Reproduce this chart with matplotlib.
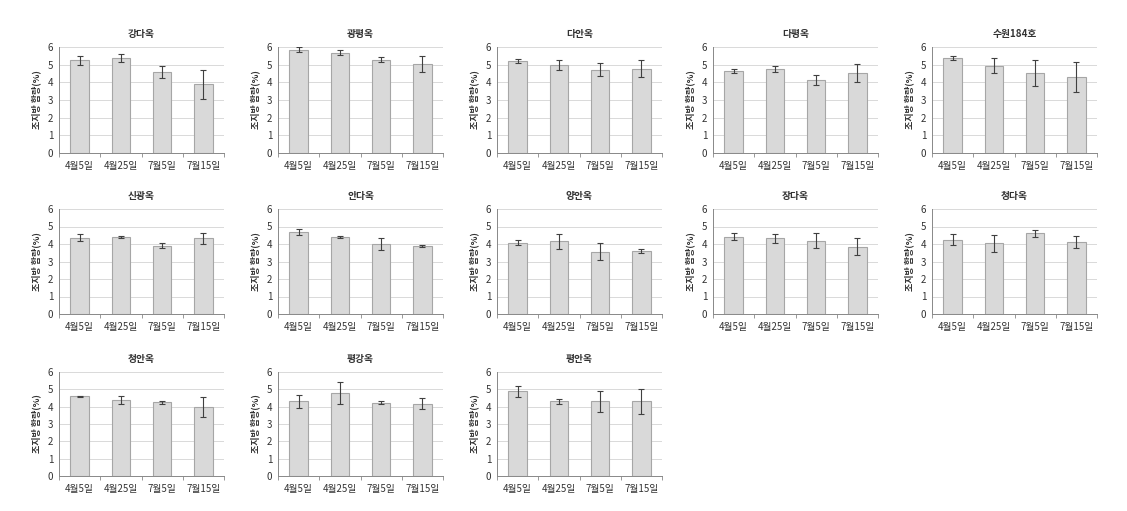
import numpy as np
import matplotlib.pyplot as plt

plt.rcParams['font.family'] = ['Noto Sans CJK KR', 'DejaVu Sans']

dates = ['4월5일', '4월25일', '7월5일', '7월15일']
varieties = ['강다옥', '광평옥', '다안옥', '다평옥', '수원184호',
             '신광옥', '안다옥', '양안옥', '장다옥', '청다옥',
             '청안옥', '평강옥', '평안옥']

# 조지방 함량 평균 (%)
means = [
    [5.25, 5.38, 4.58, 3.88],
    [5.85, 5.68, 5.28, 5.05],
    [5.22, 4.98, 4.72, 4.78],
    [4.65, 4.75, 4.12, 4.52],
    [5.38, 4.95, 4.52, 4.28],
    [4.35, 4.40, 3.90, 4.32],
    [4.68, 4.40, 4.00, 3.90],
    [4.08, 4.15, 3.55, 3.62],
    [4.42, 4.32, 4.20, 3.85],
    [4.25, 4.05, 4.62, 4.12],
    [4.60, 4.38, 4.25, 4.00],
    [4.30, 4.80, 4.22, 4.18],
    [4.88, 4.30, 4.32, 4.30],
]
# 표준편차
errs = [
    [0.25, 0.22, 0.32, 0.82],
    [0.15, 0.13, 0.15, 0.45],
    [0.10, 0.27, 0.38, 0.48],
    [0.13, 0.15, 0.27, 0.50],
    [0.12, 0.45, 0.72, 0.85],
    [0.20, 0.08, 0.15, 0.32],
    [0.17, 0.08, 0.33, 0.06],
    [0.13, 0.42, 0.48, 0.12],
    [0.20, 0.27, 0.42, 0.48],
    [0.33, 0.48, 0.20, 0.32],
    [0.03, 0.25, 0.07, 0.58],
    [0.35, 0.65, 0.08, 0.33],
    [0.32, 0.13, 0.60, 0.72],
]

W, H = 1127, 511
fig = plt.figure(figsize=(W / 100, H / 100), dpi=100)

col_left = [59, 278, 497, 713, 932]
row_top = [47, 209, 372]
row_bot = [153, 314, 476]
ax_w = 165

x = np.arange(len(dates))
for i, name in enumerate(varieties):
    r, c = divmod(i, 5)
    l = col_left[c]
    t = row_top[r]
    b = row_bot[r]
    ax = fig.add_axes([l / W, 1 - b / H, ax_w / W, (b - t) / H])
    ax.bar(x, means[i], width=0.45, color='#d9d9d9', edgecolor='#a6a6a6',
           linewidth=0.8, zorder=2)
    ax.errorbar(x, means[i], yerr=errs[i], fmt='none', ecolor='#404040',
                elinewidth=0.8, capsize=2, capthick=0.8, zorder=3)
    ax.set_xlim(-0.5, 3.5)
    ax.set_ylim(0, 6)
    ax.set_yticks(range(7))
    ax.set_xticks(x)
    ax.set_xticklabels(dates)
    ax.set_xticks(np.arange(-0.5, 4, 1), minor=True)
    ax.tick_params(axis='x', which='major', length=0, labelsize=7,
                   colors='#333333', pad=6)
    ax.tick_params(axis='x', which='minor', length=3, color='#888888')
    ax.tick_params(axis='y', length=0, labelsize=7, colors='#333333', pad=4)
    ax.grid(axis='y', color='#d9d9d9', linewidth=0.7, zorder=0)
    for s in ['top', 'right']:
        ax.spines[s].set_visible(False)
    ax.spines['left'].set_color('#888888')
    ax.spines['bottom'].set_color('#888888')
    ax.spines['left'].set_linewidth(0.7)
    ax.spines['bottom'].set_linewidth(0.7)
    ax.set_title(name, fontsize=7, fontweight='bold', color='#333333', pad=7)
    ax.set_ylabel('조지방 함량(%)', fontsize=6.5, fontweight='bold',
                  color='#333333', labelpad=5)

fig.savefig('out.png', dpi=100, facecolor='white')
